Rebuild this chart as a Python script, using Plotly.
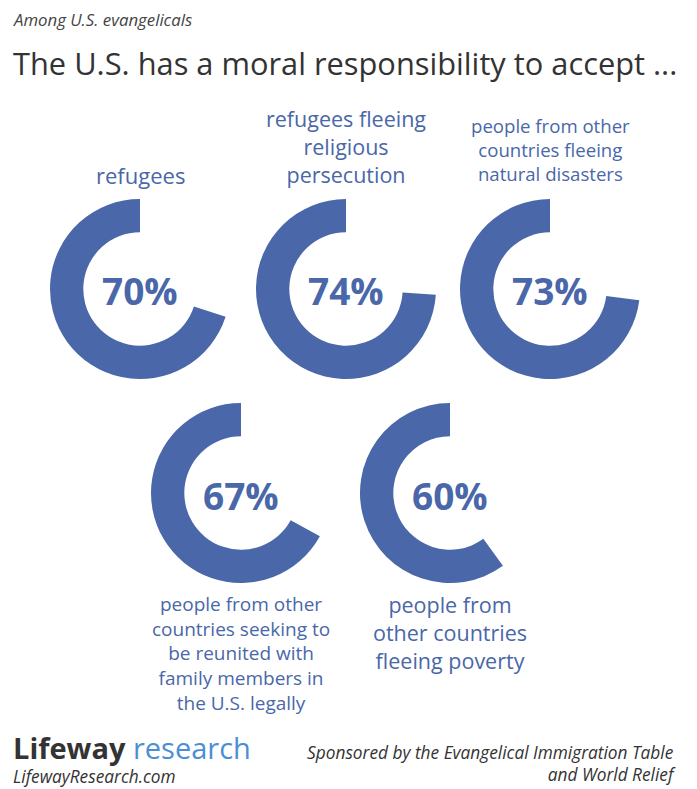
import plotly.graph_objects as go

W, H = 697, 789

categories = [
    "refugees",
    "refugees fleeing<br>religious<br>persecution",
    "people from other<br>countries fleeing<br>natural disasters",
    "people from other<br>countries seeking to<br>be reunited with<br>family members in<br>the U.S. legally",
    "people from<br>other countries<br>fleeing poverty",
]
values = [70, 74, 73, 67, 60]
value_labels = ["70%", "74%", "73%", "67%", "60%"]

BLUE = "#4967a9"
FONT = "'Open Sans', 'Noto Sans', sans-serif"

# layout (pixel) positions: center x, center y, radius
centers = [(140, 289), (346, 289), (550, 289), (241, 493), (450, 493)]
R = 90
# label settings: first line y, line spacing, font size
label_cfg = [
    (175, 27, 22),
    (119, 27, 21.5),
    (127, 23, 18.6),
    (605, 24, 19),
    (605, 27, 21.5),
]


def px(x):
    return x / W


def py(y):
    return 1 - y / H


fig = go.Figure()
annotations = []
for i, (cat, v, vl) in enumerate(zip(categories, values, value_labels)):
    cx, cy = centers[i]
    fig.add_trace(go.Pie(
        values=[100 - v, v],
        labels=["rest", "yes"],
        hole=0.63,
        sort=False,
        direction="clockwise",
        rotation=0,
        marker=dict(colors=["rgba(0,0,0,0)", BLUE], line=dict(width=0)),
        textinfo="none",
        hoverinfo="skip",
        showlegend=False,
        domain=dict(x=[px(cx - R), px(cx + R)], y=[py(cy + R), py(cy - R)]),
    ))
    annotations.append(dict(
        x=px(cx), y=py(cy + 2), xref="paper", yref="paper",
        text=f"<b>{vl}</b>", showarrow=False,
        font=dict(family=FONT, size=37, color=BLUE),
        xanchor="center", yanchor="middle",
    ))
    y0, dy, fs = label_cfg[i]
    n = len(cat.split("<br>"))
    annotations.append(dict(
        x=px(cx), y=py(y0 + (n - 1) * dy / 2), xref="paper", yref="paper",
        text=cat, showarrow=False, align="center",
        font=dict(family=FONT, size=fs, color=BLUE),
        xanchor="center", yanchor="middle",
    ))

# header
annotations.append(dict(
    x=px(11), y=py(20), xref="paper", yref="paper",
    text="<i>Among U.S. evangelicals</i>", showarrow=False,
    font=dict(family=FONT, size=16.8, color="#444444"),
    xanchor="left", yanchor="middle",
))
annotations.append(dict(
    x=px(11), y=py(63), xref="paper", yref="paper",
    text="The U.S. has a moral responsibility to accept ...", showarrow=False,
    font=dict(family=FONT, size=30.8, color="#333333"),
    xanchor="left", yanchor="middle",
))
# footer
annotations.append(dict(
    x=px(11), y=py(747), xref="paper", yref="paper",
    text="<b>Lifeway</b> <span style='color:#4a8fd6'>research</span>", showarrow=False,
    font=dict(family=FONT, size=29, color="#333333"),
    xanchor="left", yanchor="middle",
))
annotations.append(dict(
    x=px(11), y=py(776), xref="paper", yref="paper",
    text="<i>LifewayResearch.com</i>", showarrow=False,
    font=dict(family=FONT, size=17.3, color="#333333"),
    xanchor="left", yanchor="middle",
))
annotations.append(dict(
    x=px(678), y=py(763), xref="paper", yref="paper",
    text="<i>Sponsored by the Evangelical Immigration Table<br>and World Relief</i>",
    showarrow=False, align="right",
    font=dict(family=FONT, size=17.3, color="#333333"),
    xanchor="right", yanchor="middle",
))

fig.update_layout(
    width=W, height=H,
    margin=dict(l=0, r=0, t=0, b=0),
    paper_bgcolor="white", plot_bgcolor="white",
    annotations=annotations,
)

fig.write_html("out.html", config={"displayModeBar": False},
               post_script="document.body.style.margin='0';")
